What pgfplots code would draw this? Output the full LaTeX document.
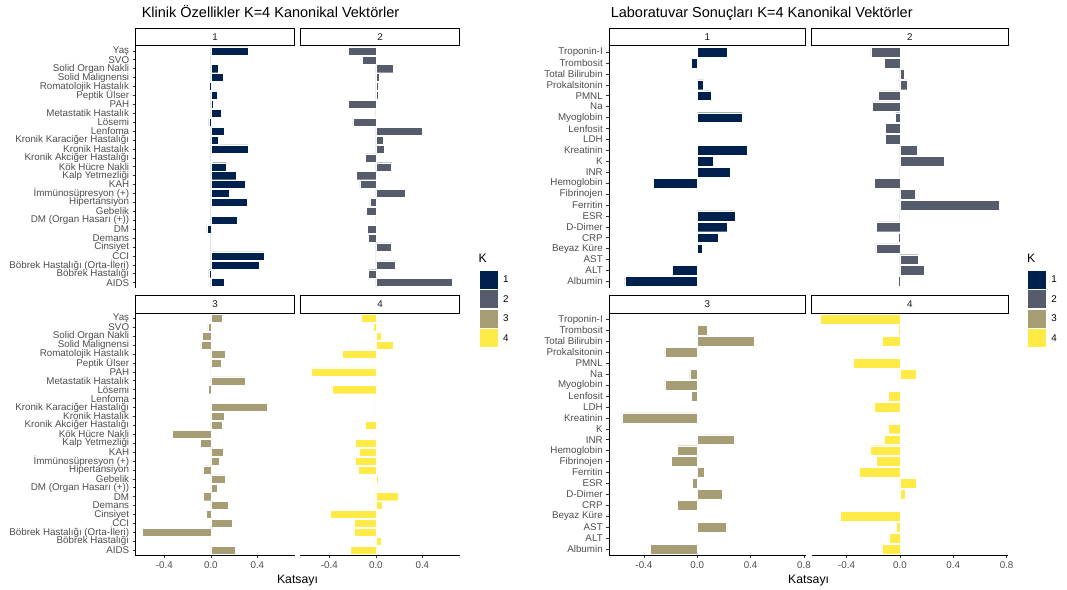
\documentclass[border=0pt]{standalone}
\usepackage{fontspec}
\setmainfont{Liberation Sans}
\usepackage{pgfplots}
\usepackage{pgfplotstable}
\pgfplotsset{compat=1.18}

% cividis, four levels
\definecolor{kone}{HTML}{00204D}
\definecolor{ktwo}{HTML}{575C6D}
\definecolor{kthree}{HTML}{A69D75}
\definecolor{kfour}{HTML}{FFEA46}
\definecolor{txtgray}{HTML}{4D4D4D}
\definecolor{tickgray}{HTML}{333333}
\definecolor{striptext}{HTML}{1A1A1A}

\newcommand{\ticksz}{\fontsize{9.8bp}{10bp}\selectfont}
\newcommand{\titlesz}{\fontsize{14.5bp}{16bp}\selectfont}
\newcommand{\labsz}{\fontsize{12.25bp}{14bp}\selectfont}

% clinical features: row position (0 = bottom row), coefficients for K = 1..4
\pgfplotstableread{
pos k1 k2 k3 k4
26 0.324 -0.235 0.097 -0.126
25 0.009 -0.117 -0.026 -0.023
24 0.063 0.146 -0.074 0.046
23 0.103 0.029 -0.086 0.149
22 -0.014 0.020 0.123 -0.289
21 0.054 0.020 0.092 0
20 0.020 -0.235 0.014 -0.553
19 0.086 0 0.298 0.011
18 -0.017 -0.198 -0.023 -0.378
17 0.115 0.398 0.006 0
16 0.060 0.066 0.484 0
15 0.324 0.069 0.115 0
14 0.009 -0.092 0.100 -0.095
13 0.129 0.135 -0.330 0.006
12 0.218 -0.169 -0.092 -0.178
11 0.292 -0.138 0.106 -0.146
10 0.160 0.252 0.072 -0.181
9 0.309 -0.052 -0.069 -0.152
8 0 -0.083 0.123 0.023
7 0.226 0.003 0.052 0
6 -0.034 -0.072 -0.063 0.195
5 0.009 -0.066 0.149 0.057
4 0 0.132 -0.040 -0.393
3 0.461 0.014 0.180 -0.183
2 0.415 0.166 -0.587 -0.189
1 -0.017 -0.063 0.014 0.046
0 0.115 0.659 0.206 -0.218
}\klinik

% laboratory results: row position (0 = bottom row), coefficients for K = 1..4
\pgfplotstableread{
pos k1 k2 k3 k4
21 0.225 -0.218 0.002 -0.595
20 -0.045 -0.115 0.075 -0.013
19 0 0.030 0.428 -0.133
18 0.048 0.055 -0.243 0
17 0.105 -0.163 0 -0.350
16 0 -0.205 -0.055 0.125
15 0.338 -0.033 -0.243 0.005
14 0 -0.108 -0.043 -0.085
13 0 -0.108 0 -0.195
12 0.378 0.130 -0.565 0
11 0.118 0.330 0.002 -0.090
10 0.250 0.008 0.278 -0.115
9 -0.328 -0.190 -0.150 -0.223
8 0 0.115 -0.195 -0.178
7 0 0.745 0.055 -0.305
6 0.283 0.003 -0.038 0.123
5 0.225 -0.175 0.188 0.040
4 0.155 -0.010 -0.150 0
3 0.035 -0.180 0 -0.445
2 0 0.138 0.218 -0.030
1 -0.188 0.183 0 -0.083
0 -0.543 -0.010 -0.350 -0.135
}\lab

\pgfplotsset{
  facet/.style={
    scale only axis,
    axis line style={draw=none},
    clip=false,
    enlargelimits=false,
    tick align=outside,
    major tick length=2.75bp,
    tick style={draw=tickgray, line width=0.55bp},
    tick label style={font=\ticksz, text=txtgray},
    xtick=\empty, ytick=\empty,
    xtick pos=left, ytick pos=left,
    height=242.5bp,
  },
  klinrange/.style={xmin=-0.649, xmax=0.721, ymin=-0.6, ymax=26.6, width=159.3bp},
  labrange/.style={xmin=-0.662, xmax=0.812, ymin=-0.6, ymax=21.6, width=196.5bp},
  klinticks/.style={xtick={-0.4,0,0.4}, xticklabels={-0.4,0.0,0.4}},
  labticks/.style={xtick={-0.4,0,0.4,0.8}, xticklabels={-0.4,0.0,0.4,0.8}},
  klinnames/.style={ytick={0,...,26}, yticklabels={{AIDS},{Böbrek Hastalığı},{Böbrek Hastalığı (Orta-İleri)},{CCI},{Cinsiyet},{Demans},{DM},{DM (Organ Hasarı (+))},{Gebelik},{Hipertansiyon},{İmmünosüpresyon (+)},{KAH},{Kalp Yetmezliği},{Kök Hücre Nakli},{Kronik Akciğer Hastalığı},{Kronik Hastalık},{Kronik Karaciğer Hastalığı},{Lenfoma},{Lösemi},{Metastatik Hastalık},{PAH},{Peptik Ülser},{Romatolojik Hastalık},{Solid Malignensi},{Solid Organ Nakli},{SVO},{Yaş}}},
  labnames/.style={ytick={0,...,21}, yticklabels={{Albumin},{ALT},{AST},{Beyaz Küre},{CRP},{D-Dimer},{ESR},{Ferritin},{Fibrinojen},{Hemoglobin},{INR},{K},{Kreatinin},{LDH},{Lenfosit},{Myoglobin},{Na},{PMNL},{Prokalsitonin},{Total Bilirubin},{Trombosit},{Troponin-I}}},
  yaxisline/.style={after end axis/.append code={
      \draw[black, line width=0.6bp] (axis description cs:0,0) -- (axis description cs:0,1);}},
  xaxisline/.style={after end axis/.append code={
      \draw[black, line width=0.6bp] (axis description cs:0,0) -- (axis description cs:1,0);}},
  strip/.style={after end axis/.append code={
      \draw[black, line width=0.8bp, fill=white] (axis description cs:0,1) rectangle ([yshift=17.5bp]axis description cs:1,1);
      \node[font=\ticksz, text=striptext] at ([yshift=8.75bp]axis description cs:0.5,1) {#1};}},
  bars/.style={xbar, bar width=0.9, draw=white, line width=0.35bp, forget plot},
  klegend/.style={
    legend cell align=left,
    legend image code/.code={\path[##1, draw=none] (0bp,-9bp) rectangle (18bp,9bp);},
    legend style={draw=none, fill=none, at={(1,0)}, anchor=north west,
      xshift=19.6bp, yshift=17.3bp, inner sep=0pt, row sep=1.5bp,
      font=\ticksz, /tikz/every odd column/.append style={column sep=3.5bp}}},
}

\begin{document}
\begin{tikzpicture}
\useasboundingbox (0,0) rectangle (1067bp,-590bp);

% ---------- clinical features ----------
\begin{axis}[facet, klinrange, klinnames, yaxisline, strip=1,
  at={(135.4bp,-45.5bp)}, anchor=north west]
\addplot[bars, fill=kone] table[x=k1, y=pos] {\klinik};
\end{axis}

\begin{axis}[facet, klinrange, strip=2, klegend,
  at={(300.4bp,-45.5bp)}, anchor=north west]
\addplot[bars, fill=ktwo] table[x=k2, y=pos] {\klinik};
\addlegendimage{fill=kone}\addlegendentry{1}
\addlegendimage{fill=ktwo}\addlegendentry{2}
\addlegendimage{fill=kthree}\addlegendentry{3}
\addlegendimage{fill=kfour}\addlegendentry{4}
\end{axis}

\begin{axis}[facet, klinrange, klinnames, klinticks, yaxisline, xaxisline, strip=3,
  at={(135.4bp,-313bp)}, anchor=north west]
\addplot[bars, fill=kthree] table[x=k3, y=pos] {\klinik};
\end{axis}

\begin{axis}[facet, klinrange, klinticks, xaxisline, strip=4,
  at={(300.4bp,-313bp)}, anchor=north west]
\addplot[bars, fill=kfour] table[x=k4, y=pos] {\klinik};
\end{axis}

% ---------- laboratory results ----------
\begin{axis}[facet, labrange, labnames, yaxisline, strip=1,
  at={(609bp,-45.5bp)}, anchor=north west]
\addplot[bars, fill=kone] table[x=k1, y=pos] {\lab};
\end{axis}

\begin{axis}[facet, labrange, strip=2, klegend,
  at={(811.7bp,-45.5bp)}, anchor=north west]
\addplot[bars, fill=ktwo] table[x=k2, y=pos] {\lab};
\addlegendimage{fill=kone}\addlegendentry{1}
\addlegendimage{fill=ktwo}\addlegendentry{2}
\addlegendimage{fill=kthree}\addlegendentry{3}
\addlegendimage{fill=kfour}\addlegendentry{4}
\end{axis}

\begin{axis}[facet, labrange, labnames, labticks, yaxisline, xaxisline, strip=3,
  at={(609bp,-313bp)}, anchor=north west]
\addplot[bars, fill=kthree] table[x=k3, y=pos] {\lab};
\end{axis}

\begin{axis}[facet, labrange, labticks, xaxisline, strip=4,
  at={(811.7bp,-313bp)}, anchor=north west]
\addplot[bars, fill=kfour] table[x=k4, y=pos] {\lab};
\end{axis}

% titles, axis titles, legend titles
\node[anchor=base west, font=\titlesz, inner sep=0pt] at (141.6bp,-17.3bp) {Klinik Özellikler K=4 Kanonikal Vektörler};
\node[anchor=base west, font=\titlesz, inner sep=0pt] at (610.6bp,-17.3bp) {Laboratuvar Sonuçları K=4 Kanonikal Vektörler};
\node[anchor=base, font=\labsz, inner sep=0pt] at (297.5bp,-583.4bp) {Katsayı};
\node[anchor=base, font=\labsz, inner sep=0pt] at (808.6bp,-583.4bp) {Katsayı};
\node[anchor=base west, font=\labsz, inner sep=0pt] at (478.5bp,-262.4bp) {K};
\node[anchor=base west, font=\labsz, inner sep=0pt] at (1026.9bp,-262.4bp) {K};
\end{tikzpicture}
\end{document}
